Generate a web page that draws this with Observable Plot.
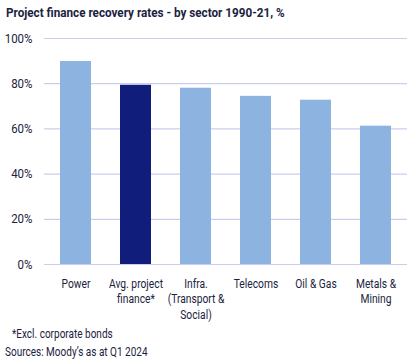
<!DOCTYPE html>
<html><head><meta charset="utf-8">
<script src="https://cdn.jsdelivr.net/npm/d3@7"></script>
<script src="https://cdn.jsdelivr.net/npm/@observablehq/plot@0.6"></script>
<style>
body{margin:0;background:#fff;font-family:"Roboto",sans-serif;color:#1b2340;width:414px;height:361px;overflow:hidden}
#title{height:28px;padding-left:6px;font-weight:bold;font-size:13px;line-height:26px;color:#1b2340;white-space:nowrap}
#title span{display:inline-block;transform:scaleX(0.9);transform-origin:left center}
#notes{font-size:13px;line-height:17.5px;margin-top:-1px}
#notes div{white-space:nowrap}
#notes span{display:inline-block;transform:scaleX(0.77);transform-origin:left center}
svg{display:block}
</style></head><body>
<div id="title"><span>Project finance recovery rates - by sector 1990-21, %</span></div>
<div id="chart"></div>
<div id="notes"><div style="padding-left:12px"><span>*Excl. corporate bonds</span></div><div style="padding-left:5px"><span>Sources: Moody’s as at Q1 2024</span></div></div>
<script>
const categories = ["Power", "Avg. project\nfinance*", "Infra.\n(Transport &\nSocial)", "Telecoms", "Oil & Gas", "Metals &\nMining"];
const values = [89.8, 79.3, 78.0, 74.4, 72.7, 61.2];
const highlight = [false, true, false, false, false, false];
const yTicks = [0, 20, 40, 60, 80, 100];

const data = categories.map((c, i) => ({category: c, value: values[i], hi: highlight[i]}));

const chart = Plot.plot({
  width: 414,
  height: 298,
  marginTop: 10,
  marginLeft: 44,
  marginRight: 7,
  marginBottom: 62,
  style: {fontFamily: '"Roboto",sans-serif', fontSize: "13px", color: "#1b2340", background: "#fff"},
  x: {domain: categories, paddingInner: 0.49, paddingOuter: 0.245, label: null},
  y: {domain: [0, 100], label: null},
  marks: [
    Plot.gridY(yTicks, {stroke: "#c9ceee", strokeOpacity: 1, strokeWidth: 1.2}),
    Plot.barY(data, {x: "category", y: "value", fill: d => d.hi ? "#111d7a" : "#8db3e0"}),
    Plot.axisY(yTicks, {tickSize: 0, tickPadding: 12, tickFormat: d => d + "%", label: null, fontSize: 12.5}),
    Plot.axisX({tickSize: 0, tickPadding: 12, label: null, lineHeight: 1.21, fontSize: 13})
  ]
});
chart.querySelectorAll('g[aria-label="x-axis tick label"] text').forEach(t => {
  const tr = t.getAttribute("transform") || "";
  t.setAttribute("transform", tr + " scale(0.79 1)");
});
chart.querySelectorAll('g[aria-label="y-axis tick label"] text').forEach(t => {
  const tr = t.getAttribute("transform") || "";
  t.setAttribute("transform", tr + " scale(0.92 1)");
});
document.getElementById("chart").appendChild(chart);
</script>
</body></html>
